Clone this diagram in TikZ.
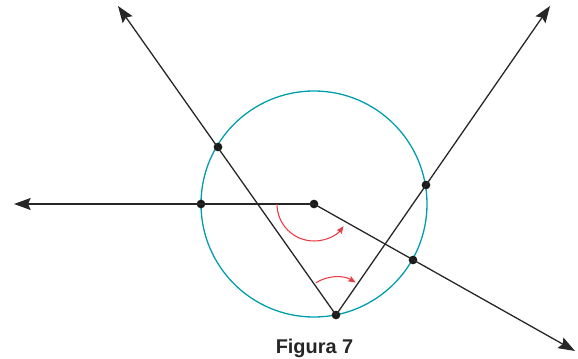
\documentclass[tikz,border=0pt]{standalone}
\usepackage{fontspec}
\setmainfont{Liberation Sans}
\usetikzlibrary{arrows.meta}
\definecolor{tealc}{RGB}{0,158,172}
\definecolor{redc}{RGB}{236,56,66}
\begin{document}
\begin{tikzpicture}[x=0.03cm,y=0.03cm,
  ray/.style={line width=1.1pt,draw=black!85,-{Stealth[length=0.5cm,width=0.36cm,inset=0.08cm]}},
  dot/.style={circle,fill=black!90,inner sep=0pt,minimum size=0.26cm},
  angarc/.style={line width=0.9pt,draw=redc,-{Stealth[length=0.22cm,width=0.18cm,inset=0.04cm]}}]
\useasboundingbox (0,0) rectangle (578,359);
% circle
\coordinate (Oc) at (314,155);
\draw[tealc,line width=1.1pt] (Oc) circle (113);
% free ends
\coordinate (L) at (14,155);
\coordinate (T1) at (118,353);
\coordinate (T2) at (550,353);
\coordinate (T3) at (575,8);
% points
\node[dot] (O) at (314,155) {};
\node[dot] (A) at (201,155) {};
\node[dot] (B) at (336,44) {};
\node[dot] (C) at (218,212) {};
\node[dot] (D) at (426,174) {};
\node[dot] (E) at (413,99) {};
% lines
\draw[ray] (O.center) -- (L);
\draw[ray] (O.center) -- (T3);
\draw[ray] (B.center) -- (T1);
\draw[ray] (B.center) -- (T2);
% angle arcs
\draw[angarc] ([shift={(180:37)}]O.center) arc[start angle=180,end angle=323,radius=37];
\draw[angarc] ([shift={(122:38)}]B.center) arc[start angle=122,end angle=59,radius=38];
% caption
\node[anchor=base,font=\fontsize{17}{20}\selectfont\bfseries,text=black!85,inner sep=0pt] (cap) at (314.5,5.5) {Figura 7};
\end{tikzpicture}
\end{document}
